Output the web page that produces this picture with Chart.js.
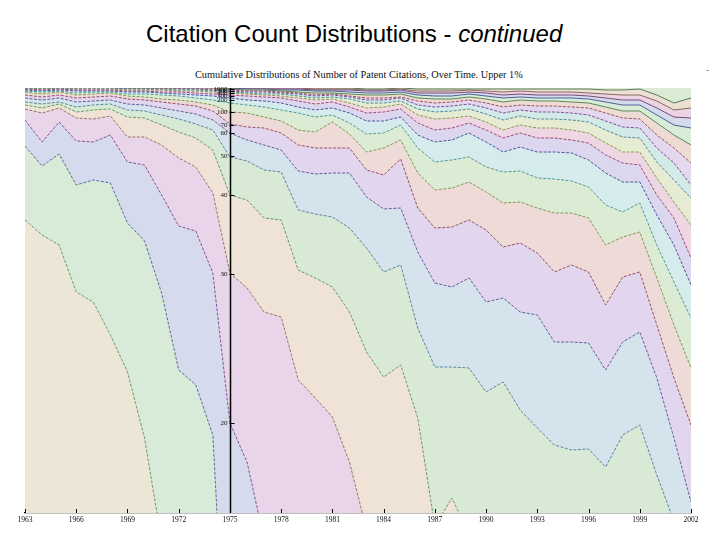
<!DOCTYPE html>
<html>
<head>
<meta charset="utf-8">
<script src="https://cdn.jsdelivr.net/npm/chart.js@4/dist/chart.umd.min.js"></script>
<style>
  html, body { margin: 0; padding: 0; background: #fff; }
  #wrap { position: relative; width: 720px; height: 540px; overflow: hidden; }
  #title { position: absolute; left: 146px; top: 20px; font: 24px "Liberation Sans", Arial, sans-serif; color: #000; white-space: nowrap; }
  #sub { position: absolute; left: 195px; top: 69px; font: 10.3px "Liberation Serif", serif; color: #111; white-space: nowrap; }
  #dash { position: absolute; left: 706px; top: 66px; font: 8px "Liberation Serif", serif; color: #333; }
  canvas { position: absolute; left: 0; top: 0; }
</style>
</head>
<body>
<div id="wrap">
  <div id="title">Citation Count Distributions - <i>continued</i></div>
  <div id="sub">Cumulative Distributions of Number of Patent Citations, Over Time. Upper 1%</div>
  <div id="dash">-</div>
  <canvas id="chart" width="720" height="540"></canvas>
</div>
<script>
// years on the x axis
const years = [1963,1964,1965,1966,1967,1968,1969,1970,1971,1972,1973,1974,1975,1976,1977,1978,1979,1980,1981,1982,1983,1984,1985,1986,1987,1988,1989,1990,1991,1992,1993,1994,1995,1996,1997,1998,1999,2000,2001,2002];
const tickYears = [1963,1966,1969,1972,1975,1978,1981,1984,1987,1990,1993,1996,1999,2002];
const axisYear = 1975;

// stacked cumulative boundaries (bottom to top)
const b1  = [293,278,268,221,211,178,141,75,-28,-80,-80,-80,-80,-80,-80,-80,-80,-80,-80,-80,-80,-80,-80,-80,-80,-80,-80,-80,-80,-80,-80,-80,-80,-80,-80,-80,-80,-80,-80,-80];
const b2  = [367,347,359,328,333,330,290,272,220,143,128,78,-242,-300,-300,-300,-300,-300,-300,-300,-300,-300,-300,-300,-300,-300,-300,-300,-300,-300,-300,-300,-300,-300,-300,-300,-300,-300,-300,-300];
const b3  = [393,371,391,372,371,378,351,348,318,287,282,240,90,51,-26,-80,-80,-80,-80,-80,-80,-80,-80,-80,-80,-80,-80,-80,-80,-80,-80,-80,-80,-80,-80,-80,-80,-80,-80,-80];
const b4  = [404,400,405,395,394,397,376,376,368,355,346,320,240,225,201,196,133,115,96,51,-17,-80,-80,-80,-80,-80,-80,-80,-80,-80,-80,-80,-80,-80,-80,-80,-80,-80,-80,-80];
const b5  = [408,405,409,401,403,404,396,395,388,381,375,363,318,313,295,293,243,235,226,201,161,136,148,95,-13,15,-21,-80,-80,-80,-80,-80,-80,-80,-80,-80,-80,-80,-80,-80];
const b6  = [411,409,411,406,408,409,403,402,398,394,389,383,356,352,343,341,303,299,296,285,265,241,248,185,146,146,145,121,131,103,85,68,63,64,46,78,88,38,-8,-50];
const b7  = [415,413,415,411,412,413,409,408,405,402,399,393,380,373,368,363,342,339,340,340,316,304,305,261,230,226,235,211,215,201,198,171,171,170,143,171,181,135,75,11];
const b8  = [418,416,418,415,416,417,414,413,411,409,407,402,389,386,385,380,368,365,365,365,343,338,354,305,285,286,293,283,266,270,260,241,248,241,208,236,241,188,135,88];
const b9  = [421,419,421,418,419,420,417,416,414,413,411,408,401,400,396,392,383,381,391,379,361,365,373,340,323,325,331,321,310,311,305,300,300,295,268,276,281,235,188,145];
const b10 = [422,421,422,420,421,421,419,419,418,417,415,413,410,408,406,403,400,396,398,390,379,380,388,365,351,353,356,346,341,342,335,334,332,326,308,301,310,268,231,195];
const b11 = [423,422,423,422,422,422,421,421,420,419,418,417,415,413,412,410,406,403,405,400,392,392,396,378,371,373,380,371,361,366,361,361,360,353,340,331,331,298,268,228];
const b12 = [424,423,424,423,423,423,422,422,421,421,420,419,418,417,416,415,412,409,411,406,400,401,404,390,383,385,390,383,375,380,375,375,373,370,358,350,348,318,295,255];
const b13 = [424,424,424,424,424,424,423,423,423,422,422,421,420,419,418,417,415,413,414,410,405,406,409,398,394,395,397,391,383,388,385,385,383,380,370,361,361,335,311,288];
const b14 = [425,424,425,424,424,424,424,424,423,423,423,422,421,420,419,419,417,415,416,414,410,410,412,404,401,402,404,399,393,397,394,394,393,391,383,376,375,351,333,315];
const b15 = [425,425,425,425,425,425,424,424,424,424,424,423,422,421,421,420,419,417,418,416,413,413,415,408,406,407,409,405,400,403,401,401,400,398,392,386,385,365,350,328];
const b16 = [425,425,425,425,425,425,424,424,424,424,424,424,423,422,422,421,420,418,419,417,415,415,416,412,410,411,413,410,406,408,407,407,406,405,400,395,394,378,365,350];
const b17 = [425,425,425,425,425,425,425,425,425,425,425,425,424,423,423,422,421,420,420,419,418,418,419,415,414,414,416,414,411,413,412,412,411,410,406,402,402,390,378,368];
const b18 = [425,425,425,425,425,425,425,425,425,425,425,425,424,424,424,423,423,422,422,421,420,420,421,418,417,417,419,417,415,416,415,415,415,414,411,408,408,398,388,385];
const b19 = [425,425,425,425,425,425,425,425,425,425,425,425,425,424,424,424,424,423,423,423,422,422,423,420,420,420,421,420,418,419,418,418,418,417,415,413,413,405,396,395];
const b20 = [425,425,425,425,425,425,425,425,425,425,425,425,425,425,425,425,425,424,424,424,423,423,424,422,422,422,423,422,421,422,421,421,421,420,419,418,418,412,403,405];
const b21 = [425,425,425,425,425,425,425,425,425,425,425,425,425,425,425,425,425,425,425,425,424,424,425,424,424,424,424,424,424,424,424,424,424,424,423,423,424,418,410,415];

// y tick positions (in the same units) and the count labels at the 1975 axis
const yTickPos = [90,239,318,357,380,388,401,413,417,420,422,424];
const yTickLabels = ['20','30','40','50','60','70','100','200','300','400','500','1000'];

const bounds = [b1,b2,b3,b4,b5,b6,b7,b8,b9,b10,b11,b12,b13,b14,b15,b16,b17,b18,b19,b20,b21];
const fills = ['#ebe6d5','#d8ead8','#d5dbec','#e9d5e9','#efe2d6','#d8ead6','#d4e3ec','#e1d6ed','#eedad6','#dcecd4','#d6ecec','#dcd6ee','#eed6e2','#e6ecd4','#d4eae8','#e4d8ee','#eedcd4','#d8ecd8','#d4dcec','#ecd4e4','#ece0d4'];
const lines = ['#6f9a70','#5b6b9e','#8c4e96','#9b7565','#6a9a62','#5a86a0','#6a5a9e','#9a4f6a','#7d9a55','#4f9a9a','#4f55a0','#a04a7a','#8a9a50','#4f8a9a','#7a4f9a','#a0505a','#5a8a5a','#50609a','#7a4a7a','#8a6a5a','#5a7a5a'];

const datasets = bounds.map((b, i) => ({
  data: b.map((v, j) => ({x: years[j], y: v})),
  fill: i === 0 ? 'origin' : '-1',
  backgroundColor: fills[i],
  borderColor: lines[i],
  borderWidth: 1,
  borderDash: i < 16 ? [3, 1.5] : [],
  pointRadius: 0,
  tension: 0
}));

const areaBg = {
  id: 'areaBg',
  beforeDatasetsDraw(chart) {
    const {ctx, chartArea: a} = chart;
    ctx.save();
    ctx.fillStyle = '#dcecd4';
    ctx.fillRect(a.left, a.top, a.right - a.left, a.bottom - a.top);
    ctx.restore();
  }
};

// vertical axis sitting at 1975 labelled with citation counts, plus inward year ticks
const midAxis = {
  id: 'midAxis',
  afterDatasetsDraw(chart) {
    const {ctx, chartArea: a, scales} = chart;
    const x = Math.round(scales.x.getPixelForValue(axisYear)) + 0.5;
    ctx.save();
    ctx.strokeStyle = '#000';
    ctx.lineWidth = 1.5;
    ctx.beginPath();
    ctx.moveTo(x, a.top);
    ctx.lineTo(x, a.bottom);
    ctx.stroke();
    ctx.lineWidth = 1;
    ctx.font = '7px "Liberation Serif", serif';
    ctx.fillStyle = '#111';
    ctx.textAlign = 'right';
    ctx.textBaseline = 'middle';
    yTickPos.forEach((v, i) => {
      const y = Math.round(scales.y.getPixelForValue(v)) + 0.5;
      ctx.beginPath();
      ctx.moveTo(x - 1, y);
      ctx.lineTo(x + 4, y);
      ctx.stroke();
      ctx.fillText(yTickLabels[i], x - 3, y);
    });
    tickYears.forEach(t => {
      const tx = Math.round(scales.x.getPixelForValue(t)) + 0.5;
      ctx.beginPath();
      ctx.moveTo(tx, a.bottom);
      ctx.lineTo(tx, a.bottom - 4);
      ctx.stroke();
    });
    ctx.restore();
  }
};

new Chart(document.getElementById('chart'), {
  type: 'line',
  data: { datasets: datasets },
  options: {
    responsive: false,
    animation: false,
    layout: { padding: { left: 25, right: 29, top: 88, bottom: 27 } },
    plugins: { legend: { display: false }, tooltip: { enabled: false } },
    scales: {
      x: {
        type: 'linear',
        min: 1963, max: 2002,
        position: { y: 0 },
        z: 2,
        afterBuildTicks: s => { s.ticks = tickYears.map(v => ({value: v})); },
        ticks: { callback: v => String(v), font: { family: 'Liberation Serif', size: 7.5 }, color: '#111', padding: 3, maxRotation: 0, autoSkip: false },
        grid: { drawOnChartArea: false, drawTicks: false, color: '#000' },
        border: { display: true, color: '#000', width: 1.2 }
      },
      y: {
        type: 'linear',
        min: 0, max: 425,
        display: false
      }
    }
  },
  plugins: [areaBg, midAxis]
});
</script>
</body>
</html>
